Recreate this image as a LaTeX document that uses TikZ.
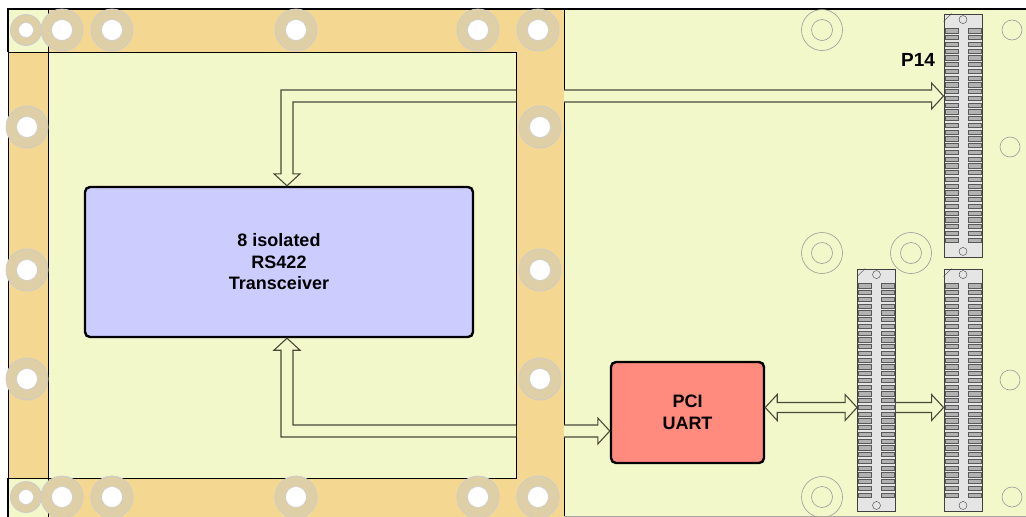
\documentclass[tikz,border=0pt]{standalone}
\usepackage{fontspec}
\setmainfont{Liberation Sans}
\usepackage{tikz}
\usetikzlibrary{calc}

\definecolor{boardgreen}{HTML}{F2F8CA}
\definecolor{frameorange}{HTML}{F4D790}
\definecolor{ringtan}{HTML}{DFCFA6}
\definecolor{transcblue}{HTML}{CCCCFF}
\definecolor{uartred}{HTML}{FF8A7E}
\definecolor{busline}{HTML}{4A4A3A}

\tikzset{
    blockbox/.style={draw=black, line width=2.4pt, rounded corners=5pt, align=center,
        font=\bfseries\fontsize{18}{21.5}\selectfont},
    connbox/.style={draw=black!75, fill=black!10, line width=0.9pt, minimum width=38pt,
        minimum height=243pt, inner sep=0pt},
    pinslot/.style={draw=black!65, fill=black!30, line width=0.5pt},
    bus/.style={draw=busline, fill=boardgreen, line width=1.1pt, line join=miter},
    ring/.style={fill=ringtan, draw=black!20, line width=0.8pt},
    hole/.style={fill=white, draw=black!20, line width=0.6pt},
    markring/.style={draw=black!40, line width=0.6pt}
}

\begin{document}
\begin{tikzpicture}[x=1pt,y=-1pt]
    \useasboundingbox (0,0) rectangle (1026,517);

    % carrier board and frame
    \fill[boardgreen] (564,9) rectangle (1026,517);
    \fill[frameorange] (8,9) rectangle (564,517);
    \fill[boardgreen] (48,52) rectangle (516,478);
    \fill[boardgreen] (8,9) rectangle (48,52);
    \fill[boardgreen] (8,478) rectangle (48,517);

    \draw[line width=0.9pt] (48,9) -- (48,517);
    \draw[line width=0.9pt] (8,52) -- (516,52) -- (516,478) -- (8,478);
    \draw[line width=0.9pt] (564,9) -- (564,517);
    \draw[black!35] (564,516) -- (1026,516);
    \draw[line width=0.9pt] (8,9) -- (8,517);
    \draw[line width=1.8pt] (8,52) -- (8,9) -- (1026,9);
    \draw[line width=1.8pt] (8,478) -- (8,517);

    % mounting holes in the frame
    \foreach \x/\y in {62/30,112/30,296/30,478/30,538/30,62/497,112/497,296/497,478/497,538/497,
                       27/127,27/270,27/379,540/127,540/270,540/379} {
        \draw[ring] (\x,\y) circle [radius=21pt];
        \draw[hole] (\x,\y) circle [radius=10.5pt];
    }
    \foreach \y in {30,497} {
        \draw[ring] (26,\y) circle [radius=15.5pt];
        \draw[hole] (26,\y) circle [radius=7.5pt];
    }

    % mounting holes on the board
    \foreach \x/\y in {822/30,822/253,911/253,822/497} {
        \draw[markring] (\x,\y) circle [radius=20.5pt];
        \draw[markring] (\x,\y) circle [radius=10.5pt];
    }
    \foreach \x/\y in {1012/30,1010/147,1010/380,1012/497}
        \draw[markring] (\x,\y) circle [radius=10pt];

    % blocks
    \node[blockbox, fill=transcblue, minimum width=388pt, minimum height=150pt] (transc) at (279,262) {8 isolated\\RS422\\Transceiver};
    \node[blockbox, fill=uartred, minimum width=153pt, minimum height=101pt] (uart) at (687.5,412.5) {PCI\\UART};

    % PMC connectors
    \node[connbox] (P14) at (963,135.5) {};
    \node[connbox, minimum height=242pt] (conA) at (876.5,390) {};
    \node[connbox, minimum height=242pt] (conB) at (963,390) {};
    \node[font=\bfseries\fontsize{19}{21.5}\selectfont] (P14label) at (918,60) {P14};

    \foreach \c in {P14,conA,conB} {
        \draw[black!75] ($(\c.north west)+(0,8)$) -- ($(\c.north west)+(8,0)$);
        \draw[black!75] ($(\c.north)+(0,6)$) circle [radius=4pt];
        \draw[black!75] ($(\c.south)+(0,-6)$) circle [radius=4pt];
        \foreach \i in {0,...,31} {
            \draw[pinslot] ($(\c.north west)+(1.5,15+\i*6.75)$) rectangle ++(13,4.2);
            \draw[pinslot] ($(\c.north east)+(-14.5,15+\i*6.75)$) rectangle ++(13,4.2);
        }
    }

    % bus ends at the frame
    \coordinate (busTopL) at (516,96);
    \coordinate (busTopR) at (564,96);
    \coordinate (busBotL) at (516,431);
    \coordinate (busBotR) at (564,431);
    \path (transc.north) ++(8,0) coordinate (tipA);
    \path (transc.south) ++(8,0) coordinate (tipC);
    \coordinate (tipB) at (P14.west |- busTopR);
    \coordinate (tipD) at (uart.west |- busBotR);

    % bus from frame down to transceiver
    \filldraw[bus] ($(busTopL)+(0,-6)$) -- ($(tipA |- busTopL)+(-6,-6)$) -- ($(tipA)+(-6,-12)$) -- ++(-7,0)
        -- (tipA) -- ($(tipA)+(13,-12)$) -- ++(-7,0) -- ($(tipA |- busTopL)+(6,6)$) -- ($(busTopL)+(0,6)$);

    % bus from frame to P14
    \filldraw[bus] ($(busTopR)+(0,-6)$) -- ($(tipB)+(-12,-6)$) -- ++(0,-7) -- (tipB)
        -- ($(tipB)+(-12,13)$) -- ++(0,-7) -- ($(busTopR)+(0,6)$);

    % bus from frame up to transceiver
    \filldraw[bus] ($(busBotL)+(0,-6)$) -- ($(tipC |- busBotL)+(6,-6)$) -- ($(tipC)+(6,12)$) -- ++(7,0)
        -- (tipC) -- ($(tipC)+(-13,12)$) -- ++(7,0) -- ($(tipC |- busBotL)+(-6,6)$) -- ($(busBotL)+(0,6)$);

    % bus from frame to UART
    \filldraw[bus] ($(busBotR)+(0,-6)$) -- ($(tipD)+(-12,-6)$) -- ++(0,-7) -- (tipD)
        -- ($(tipD)+(-12,13)$) -- ++(0,-7) -- ($(busBotR)+(0,6)$);

    % UART to first connector
    \coordinate (tipE) at ($(uart.east)+(0,-5)$);
    \coordinate (tipF) at (conA.west |- tipE);
    \filldraw[bus] (tipE) -- ($(tipE)+(12,-13)$) -- ++(0,8) -- ($(tipF)+(-12,-5)$) -- ++(0,-8) -- (tipF)
        -- ($(tipF)+(-12,13)$) -- ++(0,-8) -- ($(tipE)+(12,5)$) -- ++(0,8) -- cycle;

    % first to second connector
    \coordinate (tipG) at (conA.east |- tipE);
    \coordinate (tipH) at (conB.west |- tipE);
    \filldraw[bus] ($(tipG)+(0,-5)$) -- ($(tipH)+(-12,-5)$) -- ++(0,-8) -- (tipH)
        -- ($(tipH)+(-12,13)$) -- ++(0,-8) -- ($(tipG)+(0,5)$);
\end{tikzpicture}
\end{document}
